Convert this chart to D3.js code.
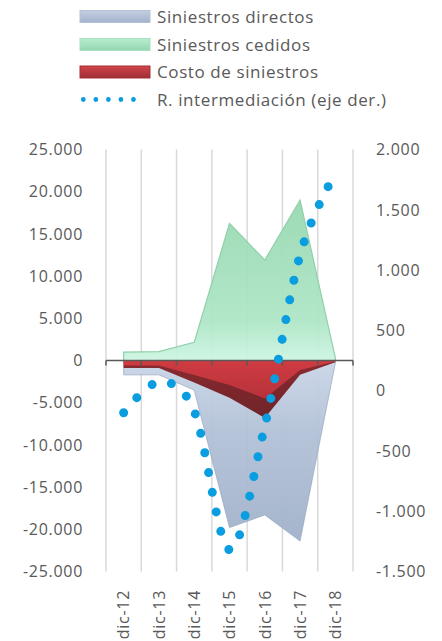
<!DOCTYPE html>
<html>
<head>
<meta charset="utf-8">
<script src="https://cdn.jsdelivr.net/npm/d3@7"></script>
<style>
  html, body { margin: 0; padding: 0; background: #ffffff; }
  svg { display: block; }
  text { font-family: "Open Sans", "Noto Sans", sans-serif; fill: #595959; }
</style>
</head>
<body>
<svg id="chart" width="442" height="641"></svg>
<script>
const categories = ["dic-12", "dic-13", "dic-14", "dic-15", "dic-16", "dic-17", "dic-18"];
const siniestrosDirectos = [-1700, -1700, -3500, -19800, -18300, -21400, -300];
const siniestrosCedidos = [1000, 1050, 2150, 16250, 11900, 19000, 300];
const costoSiniestros = [-900, -900, -2600, -4400, -6800, -1700, -200];
const rIntermediacion = [-183, 70, -170, -1320, -293, 1125, 1800];
const leftTicks = [25000, 20000, 15000, 10000, 5000, 0, -5000, -10000, -15000, -20000, -25000];
const rightTicks = [2000, 1500, 1000, 500, 0, -500, -1000, -1500];
const legendLabels = ["Siniestros directos", "Siniestros cedidos", "Costo de siniestros", "R. intermediación (eje der.)"];

const locale = d3.formatLocale({decimal: ",", thousands: ".", grouping: [3], currency: ["", ""], minus: "-"});
const fmt = locale.format(",");

const svg = d3.select("#chart");
const defs = svg.append("defs");

function vGrad(id, stops) {
  const g = defs.append("linearGradient").attr("id", id).attr("x1", 0).attr("y1", 0).attr("x2", 0).attr("y2", 1);
  stops.forEach(s => g.append("stop").attr("offset", s[0]).attr("stop-color", s[1]));
}
vGrad("gBlue", [[0, "#cad6e7"], [0.4, "#b2c1d7"], [1, "#a0b1ca"]]);
vGrad("gGreen", [[0, "#98d8b1"], [0.75, "#aee6c6"], [1, "#cdf5e2"]]);
vGrad("gRed", [[0, "#cf3b41"], [1, "#b8323a"]]);
vGrad("gRedDark", [[0, "#8a2b31"], [1, "#6e2428"]]);
vGrad("lgBlue", [[0, "#c3cfe1"], [1, "#a3b3cb"]]);
vGrad("lgGreen", [[0, "#b7ecd0"], [1, "#95d6b0"]]);
vGrad("lgRed", [[0, "#d2454b"], [1, "#9e2d33"]]);
defs.append("filter").attr("id", "soft").append("feGaussianBlur").attr("stdDeviation", 0.5);

const x = d3.scaleBand().domain(categories).range([106, 353]).paddingInner(0).paddingOuter(0);
const xc = c => x(c) + x.bandwidth() / 2;
const yL = d3.scaleLinear().domain([-25000, 25000]).range([571.5, 149.5]);
const yR = d3.scaleLinear().domain([-1500, 2000]).range([571.5, 149.5]);

// vertical gridlines
const bounds = categories.map(c => x(c)).concat([x.range()[1]]);
svg.append("g").selectAll("line").data(bounds).join("line")
  .attr("x1", d => d).attr("x2", d => d)
  .attr("y1", yL(25000)).attr("y2", yL(-25000))
  .attr("stroke", "#d9d9d9").attr("stroke-width", 1.5);

const idx = d3.range(categories.length);
const areas = svg.append("g").attr("filter", "url(#soft)");

// Siniestros directos (blue)
const areaDir = d3.area().x(i => xc(categories[i])).y0(yL(0)).y1(i => yL(siniestrosDirectos[i]));
areas.append("path").datum(idx).attr("d", areaDir)
  .attr("fill", "url(#gBlue)").attr("fill-opacity", 0.95)
  .attr("stroke", "#95a7c1").attr("stroke-width", 1).attr("stroke-opacity", 0.7);

// Siniestros cedidos (green)
const areaCed = d3.area().x(i => xc(categories[i])).y0(yL(0)).y1(i => yL(siniestrosCedidos[i]));
areas.append("path").datum(idx).attr("d", areaCed)
  .attr("fill", "url(#gGreen)").attr("fill-opacity", 0.95)
  .attr("stroke", "#8fd0a9").attr("stroke-width", 1.2);

// Costo de siniestros (red) with darker depth band
const areaCostDark = d3.area().x(i => xc(categories[i])).y0(yL(0)).y1(i => yL(costoSiniestros[i]));
areas.append("path").datum(idx).attr("d", areaCostDark).attr("fill", "url(#gRedDark)");
const areaCost = d3.area().x(i => xc(categories[i])).y0(yL(0)).y1(i => yL(costoSiniestros[i] * 0.66));
areas.append("path").datum(idx).attr("d", areaCost).attr("fill", "url(#gRed)");

// zero axis with ticks
svg.append("line").attr("x1", x.range()[0]).attr("x2", x.range()[1])
  .attr("y1", yL(0)).attr("y2", yL(0)).attr("stroke", "#595959").attr("stroke-width", 1.5);
svg.append("g").selectAll("line").data(bounds).join("line")
  .attr("x1", d => d).attr("x2", d => d)
  .attr("y1", yL(0)).attr("y2", yL(0) + 5)
  .attr("stroke", "#595959").attr("stroke-width", 1.5);

// R. intermediación dotted line (right axis)
const line = d3.line().x(i => xc(categories[i])).y(i => yR(rIntermediacion[i])).curve(d3.curveCardinal.tension(0));
svg.append("path").datum(idx).attr("d", line)
  .attr("fill", "none").attr("stroke", "#0a9de0").attr("stroke-width", 9)
  .attr("stroke-linecap", "round").attr("stroke-dasharray", "0 20");

// left axis labels
svg.append("g").selectAll("text").data(leftTicks).join("text")
  .attr("x", 83).attr("y", d => yL(d)).attr("dy", "0.36em")
  .attr("text-anchor", "end").attr("font-size", 16).attr("letter-spacing", 0.7)
  .text(d => fmt(d));

// right axis labels
svg.append("g").selectAll("text").data(rightTicks).join("text")
  .attr("x", 376).attr("y", d => yR(d)).attr("dy", "0.36em")
  .attr("text-anchor", "start").attr("font-size", 16).attr("letter-spacing", 0.7)
  .text(d => fmt(d));

// x labels rotated
svg.append("g").selectAll("text").data(categories).join("text")
  .attr("transform", d => `translate(${xc(d)},590) rotate(-90)`)
  .attr("dy", "0.36em").attr("text-anchor", "end")
  .attr("font-size", 16).attr("letter-spacing", 0.7)
  .text(d => d);

// legend
const lg = svg.append("g");
const rowsY = [16.5, 44.5, 72, 99.5];
const swFills = ["url(#lgBlue)", "url(#lgGreen)", "url(#lgRed)"];
const swStrokes = ["#b3c1d6", "#a6e2c1", "#a33036"];
swFills.forEach((f, i) => {
  lg.append("rect").attr("x", 80).attr("y", rowsY[i] - 6).attr("width", 70).attr("height", 12)
    .attr("fill", f).attr("stroke", swStrokes[i]).attr("stroke-width", 1);
});
lg.append("line").attr("x1", 83.3).attr("x2", 146).attr("y1", rowsY[3]).attr("y2", rowsY[3])
  .attr("stroke", "#0a9de0").attr("stroke-width", 4.8).attr("stroke-linecap", "round")
  .attr("stroke-dasharray", "0 12.54");
lg.selectAll("text").data(legendLabels).join("text")
  .attr("x", 157).attr("y", (d, i) => rowsY[i]).attr("dy", "0.36em")
  .attr("font-size", 17).attr("letter-spacing", 0.6)
  .text(d => d);
</script>
</body>
</html>
